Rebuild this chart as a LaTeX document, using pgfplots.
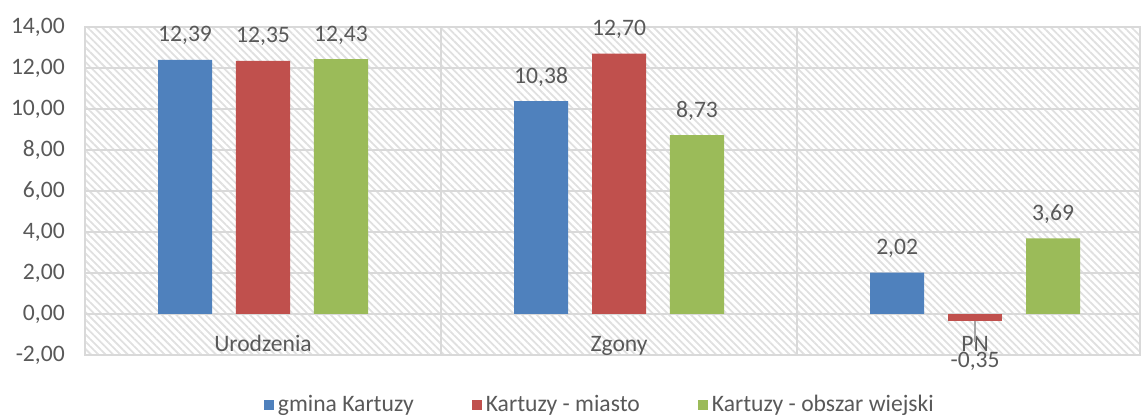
\documentclass[border=0pt]{standalone}
\usepackage{fontspec}
\setmainfont{Carlito}
\usepackage{pgfplots}
\pgfplotsset{compat=1.18}
\usetikzlibrary{patterns.meta}

\definecolor{cBlue}{HTML}{4F81BD}
\definecolor{cRed}{HTML}{C0504D}
\definecolor{cGreen}{HTML}{9BBB59}
\definecolor{txt}{HTML}{595959}
\definecolor{gridc}{HTML}{D9D9D9}

\begin{document}
\begin{tikzpicture}
\fontsize{11.8}{14}\selectfont
\begin{axis}[
    scale only axis,
    width=527.5pt,
    height=164pt,
    xmin=-0.5, xmax=2.463,
    ymin=-2, ymax=14,
    ytick={-2,0,...,14},
    xtick={0,1,2},
    xticklabels={Urodzenia,Zgony,PN},
    minor xtick={0.5,1.5},
    xminorgrids=true,
    ymajorgrids=true,
    major tick length=0pt,
    minor tick length=0pt,
    grid style={gridc, line width=1pt},
    minor grid style={gridc, line width=1pt},
    axis line style={gridc, line width=1pt},
    axis background/.style={pattern={Lines[angle=-45,distance=2.6pt,line width=0.9pt]}, pattern color=black!12},
    tick label style={font=\fontsize{11.8}{14}\selectfont, text=txt},
    /pgf/number format/.cd, fixed, fixed zerofill, precision=2, use comma, assume math mode=true,
    /pgfplots/.cd,
    yticklabel style={xshift=-6pt},
    xticklabel style={anchor=base, yshift=1.5pt},
    ybar,
    bar width=0.152,
    clip=false,
    nodes near coords={\pgfmathprintnumber[fixed,fixed zerofill,precision=2,use comma,assume math mode=true]{\pgfplotspointmeta}},
    every node near coord/.append style={font=\fontsize{11.8}{14}\selectfont, text=txt, anchor=base, yshift=9pt},
    legend style={at={(0.489,-0.152)}, anchor=center, draw=none, fill=none,
        legend columns=3, font=\fontsize{11.8}{14}\selectfont, text=txt,
        /tikz/every even column/.append style={column sep=27pt},
        inner sep=0pt},
    legend image code/.code={\fill[#1, draw=none] (0pt,-2.5pt) rectangle (5pt,2.5pt);},
]
% gmina Kartuzy
\addplot[fill=cBlue, draw=none, bar shift=-0.219]
    coordinates {(0,12.39) (1,10.38) (2,2.02)};
\addlegendentry{gmina Kartuzy}
% Kartuzy - miasto
\addplot[fill=cRed, draw=none, bar shift=0]
    coordinates {(0,12.35) (1,12.70)};
\addlegendentry{Kartuzy - miasto}
% Kartuzy - obszar wiejski
\addplot[fill=cGreen, draw=none, bar shift=0.219]
    coordinates {(0,12.43) (1,8.73) (2,3.69)};
\addlegendentry{Kartuzy - obszar wiejski}
% ujemny słupek PN (miasto)
\addplot[fill=cRed, draw=none, bar shift=0, forget plot,
    every node near coord/.append style={yshift=-32pt}]
    coordinates {(2,-0.35)};
\draw[gray!70, line width=0.8pt] (axis cs:2,-0.35) -- (axis cs:2,-1.37);
\coordinate (bbl) at (rel axis cs:-0.0806,-0.192);
\coordinate (btr) at (rel axis cs:1.001,1.0823);
\end{axis}
\pgfresetboundingbox
\path[use as bounding box] (bbl) rectangle (btr);
\end{tikzpicture}
\end{document}
